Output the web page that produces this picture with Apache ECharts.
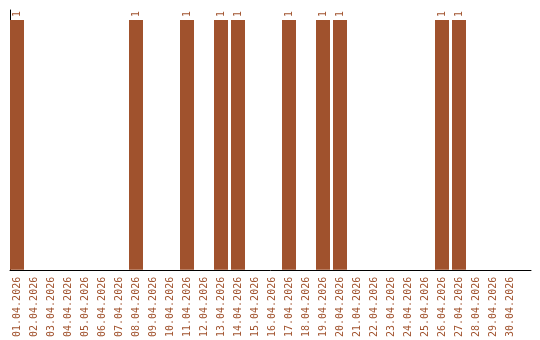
<!DOCTYPE html>
<html><head><meta charset="utf-8">
<script src="https://cdn.jsdelivr.net/npm/echarts@6/dist/echarts.min.js"></script>
<style>html,body{margin:0;padding:0;background:#fff}#c{width:540px;height:340px}</style>
</head><body><div id="c"></div>
<script>
const categories = ['01.04.2026','02.04.2026','03.04.2026','04.04.2026','05.04.2026','06.04.2026','07.04.2026','08.04.2026','09.04.2026','10.04.2026','11.04.2026','12.04.2026','13.04.2026','14.04.2026','15.04.2026','16.04.2026','17.04.2026','18.04.2026','19.04.2026','20.04.2026','21.04.2026','22.04.2026','23.04.2026','24.04.2026','25.04.2026','26.04.2026','27.04.2026','28.04.2026','29.04.2026','30.04.2026'];
const values = [1,0,0,0,0,0,0,1,0,0,1,0,1,1,0,0,1,0,1,1,0,0,0,0,0,1,1,0,0,0];
const brown = '#a0522d';
const chart = echarts.init(document.getElementById('c'), null, {renderer:'canvas'});
chart.setOption({
  animation: false,
  grid: [
    {left: 8.5, width: 510, top: 20, height: 250},
    {left: 10, right: 9, top: 10, height: 260.5}
  ],
  xAxis: [
    {type:'category', gridIndex:0, data: categories, boundaryGap:true,
     axisLine:{show:false}, axisTick:{show:false}, splitLine:{show:false},
     axisLabel:{rotate:90, interval:0, margin:7, color:brown, fontFamily:'DejaVu Sans Mono', fontSize:10}},
    {type:'value', gridIndex:1, min:0, max:1, axisLine:{show:true, onZero:false, lineStyle:{color:'#000', width:1}},
     axisTick:{show:false}, axisLabel:{show:false}, splitLine:{show:false}}
  ],
  yAxis: [
    {type:'value', gridIndex:0, min:0, max:1, axisLine:{show:false}, axisTick:{show:false}, axisLabel:{show:false}, splitLine:{show:false}},
    {type:'value', gridIndex:1, min:0, max:1, axisLine:{show:true, onZero:false, lineStyle:{color:'#000', width:1}},
     axisTick:{show:false}, axisLabel:{show:false}, splitLine:{show:false}}
  ],
  series: [{
    type:'bar', xAxisIndex:0, yAxisIndex:0, data: values, barWidth:14,
    itemStyle:{color:brown},
    label:{show:true, position:'top', rotate:90, align:'left', verticalAlign:'middle', distance:3,
      color:brown, fontFamily:'DejaVu Sans Mono', fontSize:10,
      formatter: p => p.value ? String(p.value) : ''}
  }]
});
</script></body></html>
